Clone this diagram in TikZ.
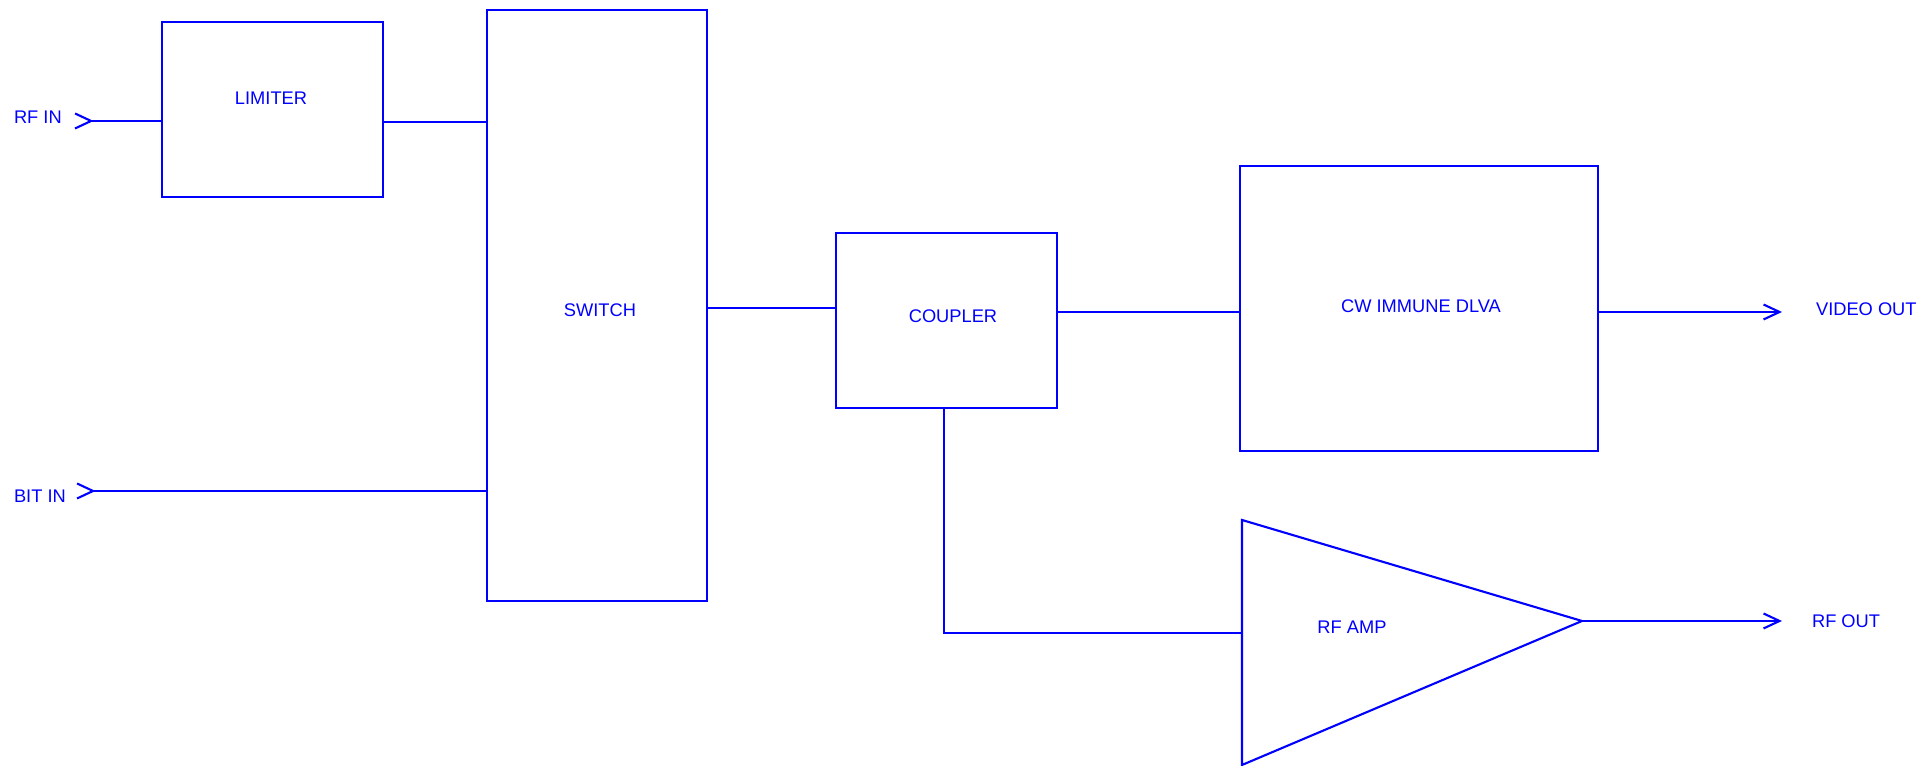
\documentclass[tikz,border=0pt]{standalone}
\usepackage{fontspec}
\setmainfont{Liberation Sans}
\usepackage{xcolor}
\colorlet{colorBlock}{blue}
\usepackage{tikz}
\usetikzlibrary{arrows.meta, positioning}
\tikzset{block/.style={draw, rectangle, inner sep=0pt}}

\begin{document}
\begin{tikzpicture}[>={Straight Barb[length=1.6mm, width=1.5mm]}, line width=0.6pt, colorBlock, every node/.style={text=colorBlock, inner sep=0pt, font=\fontsize{5.2}{6}\selectfont}]
\useasboundingbox (0,0) rectangle (19.19,7.66);
\node[block, minimum width=2.21cm, minimum height=1.75cm] (lim) at (2.725,6.565) {};
\node[block, minimum width=2.20cm, minimum height=5.91cm] (sw) at (5.97,4.605) {};
\node[block, minimum width=2.21cm, minimum height=1.75cm] (cpl) at (9.465,4.455) {};
\node[block, minimum width=3.58cm, minimum height=2.85cm] (dlva) at (14.19,4.575) {};
\node at (2.71,6.68) {LIMITER};
\node at (6.00,4.56) {SWITCH};
\node at (9.53,4.50) {COUPLER};
\node at (14.21,4.60) {CW IMMUNE DLVA};
% rf amp
\coordinate (ampT) at (12.42,2.46);
\coordinate (ampO) at (15.82,1.45);
\coordinate (ampB) at (12.42,0.01);
\draw (ampT) -- (ampO) -- (ampB) -- cycle;
\node at (13.52,1.39) {RF AMP};
% inputs
\coordinate (rfin) at (0.74,6.45);
\coordinate (bitin) at (0.76,2.75);
\node[anchor=west] at (0.13,6.49) {RF IN};
\node[anchor=west] at (0.13,2.70) {BIT IN};
\draw [{Straight Barb[reversed, length=1.6mm, width=1.5mm]}-] (rfin) -- (rfin -| lim.west);
\draw [{Straight Barb[reversed, length=1.6mm, width=1.5mm]}-] (bitin) -- (bitin -| sw.west);
\draw ([yshift=-1.25mm]lim.east) -- ([yshift=-1.25mm]lim.east -| sw.west);
\draw ([yshift=-0.25mm]sw.east) -- ([yshift=-0.25mm]sw.east -| cpl.west);
\draw ([yshift=-0.35mm]dlva.west -| cpl.east) -- ([yshift=-0.35mm]dlva.west);
\coordinate (ampIn) at (12.42,1.33);
\draw ([xshift=-0.25mm]cpl.south) |- (ampIn);
% outputs
\coordinate (vout) at (17.82,4.54);
\coordinate (rfout) at (17.82,1.45);
\draw [->] (dlva.east |- vout) -- (vout);
\draw [->] (ampO) -- (rfout);
\node[anchor=west] at (18.15,4.57) {VIDEO OUT};
\node[anchor=west] at (18.11,1.45) {RF OUT};
\end{tikzpicture}
\end{document}
